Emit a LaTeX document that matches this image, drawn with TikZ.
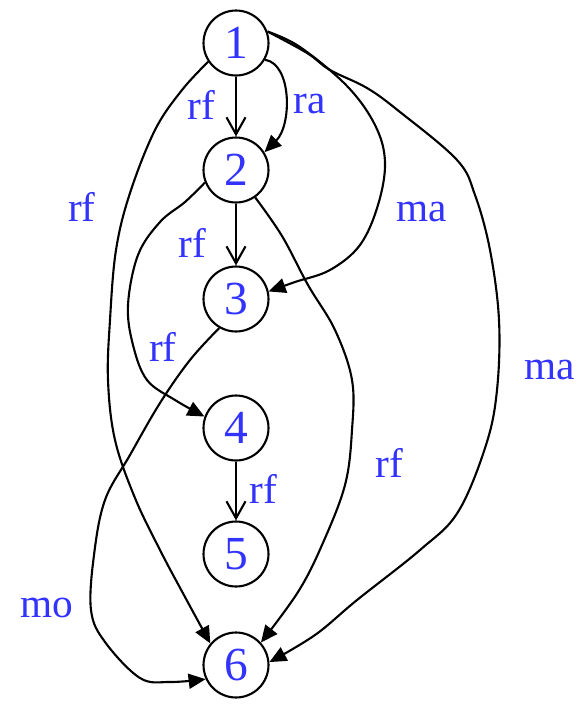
\documentclass[tikz,border=0pt]{standalone}
\usepackage{fontspec}
\setmainfont{Liberation Serif}
\usepackage{xcolor}
\usepackage{tikz}
\usetikzlibrary{arrows.meta}
\definecolor{evblue}{RGB}{51,51,255}
\tikzset{
  event/.style={circle, draw=black, line width=1.2pt, minimum size=13mm, inner sep=0pt, text=evblue, font=\fontsize{27}{27}\selectfont},
  elabel/.style={text=evblue, inner sep=0pt, font=\fontsize{23.5}{24}\selectfont},
  straightarrow/.style={-{Straight Barb[length=3.4mm,width=3.8mm]}, line width=1.2pt},
  curvearrow/.style={-{Triangle[length=3.4mm,width=3mm]}, line width=1.2pt}
}

\begin{document}
\begin{tikzpicture}[x=0.02cm,y=-0.02cm]
\useasboundingbox (0,0) rectangle (586,704);
\node[event] (v1) at (236,43) {1};
\node[event] (v2) at (236,170) {2};
\node[event] (v3) at (236,299) {3};
\node[event] (v4) at (236,428) {4};
\node[event] (v5) at (236,554) {5};
\node[event] (v6) at (236,665) {6};
\draw[straightarrow] (v1) -- (v2);
\draw[straightarrow] (v2) -- (v3);
\draw[straightarrow] (v4) -- (v5);
\draw[curvearrow] (v1.-30) .. controls (292,64) and (292,125) .. (v2.32);
\draw[curvearrow] plot[smooth, tension=0.6] coordinates {(v1.20) (300,47) (347,86) (375,125) (385,162) (378,205) (360,245) (330,270) (295,282) (v3.13)};
\draw[curvearrow] plot[smooth, tension=0.6] coordinates {(v1.20) (307,53) (330,70) (367,88) (400,112) (457,160) (475,195) (490,250) (499,320) (497,390) (486,445) (458,512) (420,550) (357,600) (315,635) (v6.5)};
\draw[curvearrow] plot[smooth, tension=0.6] coordinates {(v2.-55) (282,236) (308,285) (335,330) (352,380) (352,430) (345,485) (322,545) (298,592) (v6.42)};
\draw[curvearrow] plot[smooth, tension=0.6] coordinates {(v1.-146) (182,90) (155,130) (130,193) (116,250) (110,320) (108,380) (115,440) (135,498) (160,550) (185,597) (v6.140)};
\draw[curvearrow] plot[smooth, tension=0.6] coordinates {(v2.-158) (185,202) (160,222) (138,255) (128,305) (133,345) (147,380) (175,400) (v4.160)};
\draw[curvearrow] plot[smooth, tension=0.6] coordinates {(v3.-120) (190,360) (160,403) (130,455) (105,500) (94,555) (91,610) (105,642) (140,678) (170,682) (v6.-155)};
\node[elabel] (lab12) at (201,105) {rf};
\node[elabel] (lab12r) at (310,104) {ra};
\node[elabel] (lab13) at (422,212) {ma};
\node[elabel] (lab16) at (82,207) {rf};
\node[elabel] (lab23) at (192,243) {rf};
\node[elabel] (lab24) at (163,347) {rf};
\node[elabel] (lab45) at (263,489) {rf};
\node[elabel] (lab36) at (47,608) {mo};
\node[elabel] (lab26) at (389,463) {rf};
\node[elabel] (lab16m) at (550,370) {ma};
\end{tikzpicture}
\end{document}
